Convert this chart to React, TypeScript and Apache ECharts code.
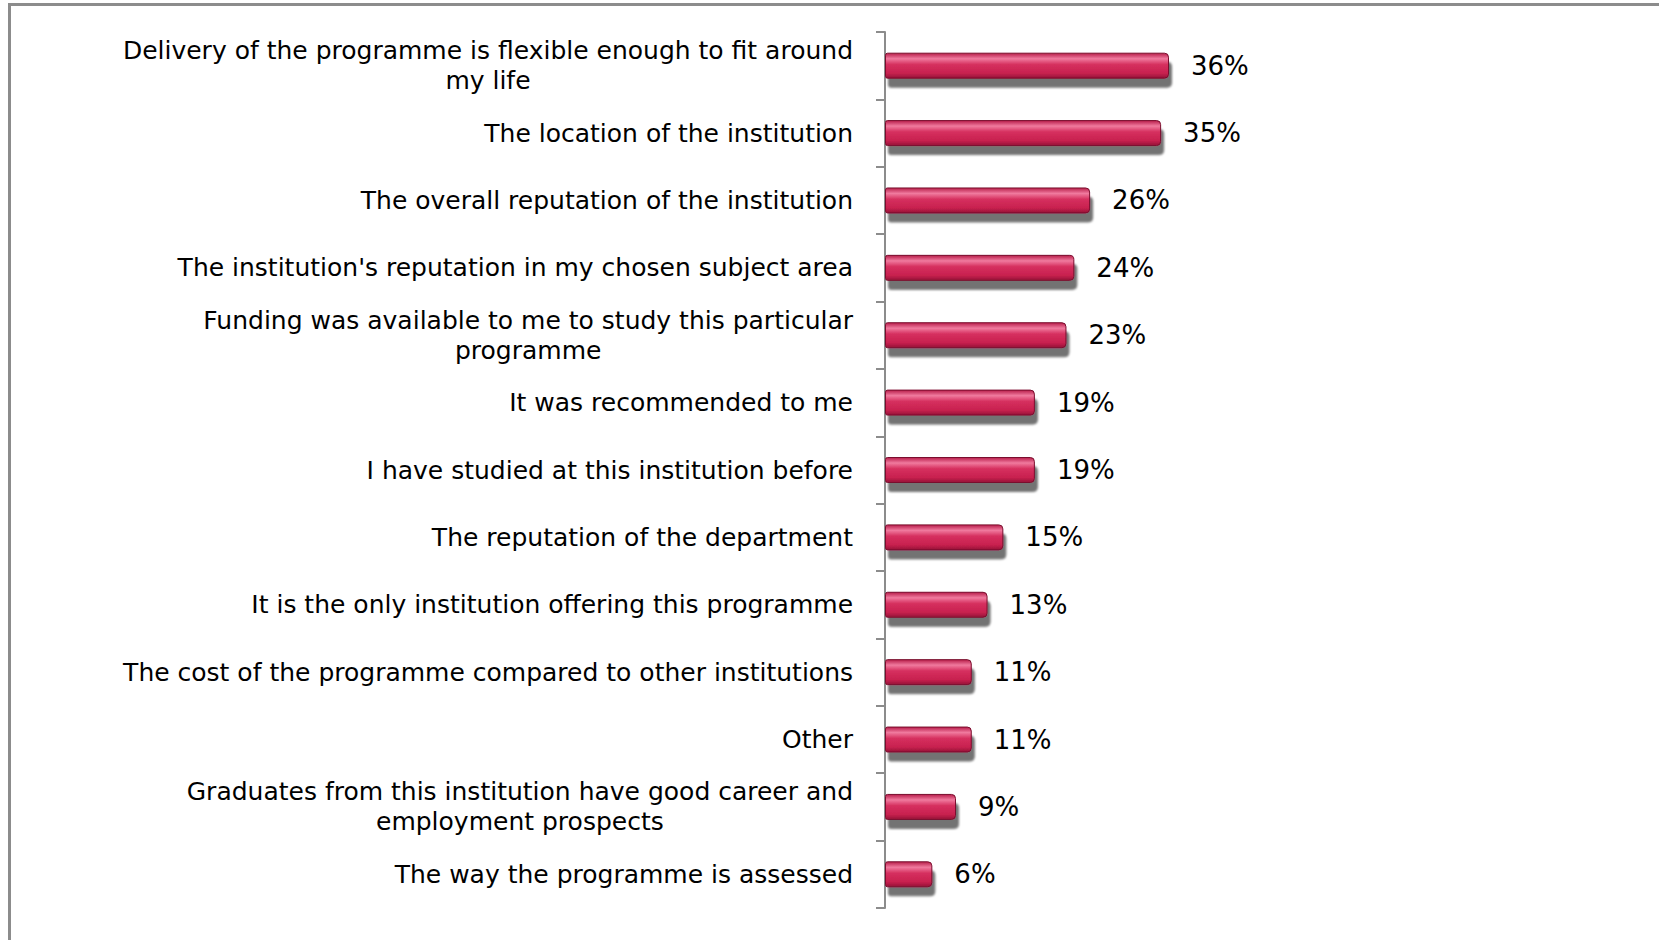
import React, { useEffect, useRef } from "react";
import * as echarts from "echarts";

// Reasons for choosing the programme, top to bottom
const categories: string[] = [
  "Delivery of the programme is flexible enough to fit around\nmy life",
  "The location of the institution",
  "The overall reputation of the institution",
  "The institution's reputation in my chosen subject area",
  "Funding was available to me to study this particular\nprogramme",
  "It was recommended to me",
  "I have studied at this institution before",
  "The reputation of the department",
  "It is the only institution offering this programme",
  "The cost of the programme compared to other institutions",
  "Other",
  "Graduates from this institution have good career and\nemployment prospects",
  "The way the programme is assessed",
];

// Share of respondents (%)
const shares: number[] = [36, 35, 26, 24, 23, 19, 19, 15, 13, 11, 11, 9, 6];

const FONT = "'DejaVu Sans', Verdana, sans-serif";

export default function App() {
  const ref = useRef<HTMLDivElement>(null);

  useEffect(() => {
    document.body.style.margin = "0";
    if (!ref.current) return;
    const chart = echarts.init(ref.current, null, { renderer: "svg" });

    const barFill = new echarts.graphic.LinearGradient(0, 0, 0, 1, [
      { offset: 0, color: "#b81d4a" },
      { offset: 0.22, color: "#f07a9e" },
      { offset: 0.45, color: "#d6305f" },
      { offset: 0.8, color: "#c8214f" },
      { offset: 1, color: "#951237" },
    ]);

    chart.setOption({
      animation: false,
      backgroundColor: "#ffffff",
      grid: {
        left: 885,
        right: 64,
        top: 32,
        bottom: 32,
        containLabel: false,
      },
      xAxis: {
        type: "value",
        min: 0,
        max: 90,
        show: false,
      },
      yAxis: {
        type: "category",
        data: categories,
        inverse: true,
        axisLine: { show: true, lineStyle: { color: "#8c8c8c", width: 2 } },
        axisTick: { show: true, length: 9, lineStyle: { color: "#8c8c8c", width: 2 } },
        axisLabel: {
          margin: 32,
          color: "#000000",
          fontFamily: FONT,
          fontSize: 25,
          lineHeight: 30,
          align: "right",
          // each line is centred within the right-aligned label block
          formatter: (value: string) =>
            value
              .split("\n")
              .map((line) => `{c|${line}}`)
              .join("\n"),
          rich: {
            c: {
              align: "center",
              color: "#000000",
              fontFamily: FONT,
              fontSize: 25,
              lineHeight: 30,
            },
          },
        },
        splitLine: { show: false },
      },
      series: [
        {
          type: "bar",
          data: shares,
          barWidth: 26,
          itemStyle: {
            color: barFill,
            borderColor: "#7a0f2e",
            borderWidth: 1,
            borderRadius: [2, 4, 4, 2],
            shadowColor: "rgba(0,0,0,0.55)",
            shadowBlur: 2,
            shadowOffsetX: 3,
            shadowOffsetY: 9,
          },
          label: {
            show: true,
            position: "right",
            distance: 22,
            formatter: "{c}%",
            color: "#000000",
            fontFamily: FONT,
            fontSize: 26,
          },
        },
      ],
      graphic: [
        {
          type: "rect",
          silent: true,
          shape: { x: 9.5, y: 4.5, width: 1700, height: 1000 },
          style: { fill: "none", stroke: "#8c8c8c", lineWidth: 3 },
        },
      ],
    });

    return () => chart.dispose();
  }, []);

  return <div ref={ref} style={{ width: 1659, height: 940 }} />;
}
